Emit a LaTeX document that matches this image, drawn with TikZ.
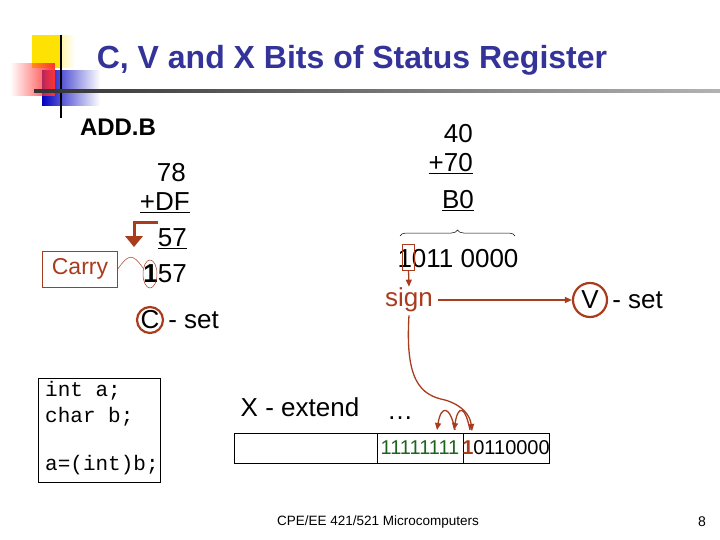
\documentclass[tikz,border=0pt]{standalone}
\usepackage{fontspec}
\setmainfont{Liberation Sans}
\setmonofont{Liberation Mono}
\usetikzlibrary{positioning,decorations.pathreplacing,arrows.meta,calc,fadings}
\definecolor{rust}{RGB}{170,60,30}
\definecolor{navy}{RGB}{51,51,153}
\definecolor{bitgreen}{RGB}{30,100,30}
\tikzset{
  txt/.style={font=\fontsize{26}{28}\selectfont, inner sep=1pt},
  mark circ/.style={draw=rust, line width=2.2pt, circle, minimum size=26pt, inner sep=0pt},
  link/.style={rust, line width=1.3pt, -{Triangle[length=7pt,width=6pt]}},
  regcell/.style={draw, line width=0.7pt, minimum height=30pt, inner sep=0pt}
}
\begin{document}
\begin{tikzpicture}[x=1pt,y=-1pt]
\useasboundingbox (0,0) rectangle (720,540);
% corner ornament
\fill[yellow!85!orange, path fading=east] (32,35) rectangle (75,68);
\fill[yellow!85!orange] (32,35) rectangle (62,68);
\fill[blue!75!black, path fading=east] (42,70) rectangle (100,106);
\fill[red!80, path fading=west] (10,63) rectangle (55,96);
\draw[line width=2.5pt] (61,35) -- (61,118);
\shade[left color=black!80, right color=black!30] (34,89.5) rectangle (720,92.5);
% title
\node[font=\fontsize{32}{34}\selectfont\bfseries, text=navy] (title) at (352,60) {C, V and X Bits of Status Register};
\node[txt, font=\fontsize{24}{26}\selectfont\bfseries] (op) at (118,127) {ADD.B};
% left sum
\node[txt, anchor=east] (a1) at (187,173) {78};
\node[txt, anchor=east] (a2) at (191,203) {\underline{+DF}};
\node[txt, anchor=east] (a3) at (188,239) {\underline{57}};
\node[txt, anchor=east] (a4) at (188,274) {\textbf{1}57};
\node[txt, draw=rust, text=rust, font=\fontsize{23}{25}\selectfont, inner sep=3pt, minimum height=36pt, minimum width=75pt] (carry) at (80,269) {Carry};
\draw[rust, line width=0.5pt] (150,274) ellipse (7 and 14);
\draw[rust, line width=0.5pt] (carry.east) .. controls (128,255) and (132,252) .. (143,268);
\draw[rust, line width=3pt] (158,223) -- (134,223) -- (134,236);
\fill[rust] (125,236) -- (143,236) -- (134,247) -- cycle;
\node[mark circ] (cbit) at (150,320) {};
\node[txt] at (cbit) {C};
\node[txt, right=3pt of cbit] (cset) {- set};
% right sum
\node[txt, anchor=east] (b1) at (474,134) {40};
\node[txt, anchor=east] (b2) at (474,164) {\underline{+70}};
\node[txt, anchor=east] (b3) at (475,201) {\underline{B0}};
\draw[decorate, decoration={brace, amplitude=6pt}, line width=0.5pt] (400,236) -- (515,236);
\node[txt] (bin) at (458,259) {1011 0000};
\node[draw=rust, line width=0.7pt, minimum width=12pt, minimum height=26pt, inner sep=0pt] (msb) at (408.5,257) {};
\node[txt, text=rust] (sign) at (409,300) {sign};
\node[mark circ, minimum size=34pt] (vbit) at (590,300) {};
\node[txt] at (vbit) {V};
\node[txt, right=3pt of vbit] (vset) {- set};
\draw[link] (msb.south) -- (sign.north);
\draw[link] (sign.east) ++(4,0) -- (vbit.west);
% code and register
\node[draw, line width=0.7pt, minimum width=122pt, minimum height=104pt] (code) at (99,430) {};
\node[font=\ttfamily\fontsize{21}{26}\selectfont, anchor=north west, align=left, inner sep=0pt] (src) at (45,381) {int a;\\char b;\\[22pt]a=(int)b;};
\node[txt] (xext) at (300,407) {X - extend};
\node[txt] (dots) at (400,418) {\dots};
\node[regcell, minimum width=143pt] (hi) at (305.5,448) {};
\node[regcell, minimum width=86pt] (mid) at (420,448) {};
\node[regcell, minimum width=86pt] (lo) at (506,448) {};
\node[font=\fontsize{20}{22}\selectfont, text=bitgreen] at (mid) {11111111};
\node[font=\fontsize{20}{22}\selectfont] at (lo) {\textcolor{rust}{\textbf{1}}0110000};
\coordinate (lotop) at (472,431);
\draw[link] (sign.south) ++(0,2) .. controls (405,380) and (420,395) .. (445,400) .. controls (462,405) and (470,415) .. (lotop);
\draw[link] (470,430) .. controls (465,405) and (458,405) .. (454,430);
\draw[link] (455,430) .. controls (450,405) and (441,405) .. (437,430);
% footer
\node[font=\fontsize{13.5}{15}\selectfont] (foot) at (378,522) {CPE/EE 421/521 Microcomputers};
\node[font=\fontsize{14}{15}\selectfont] (pnum) at (702,522) {8};
\end{tikzpicture}
\end{document}
